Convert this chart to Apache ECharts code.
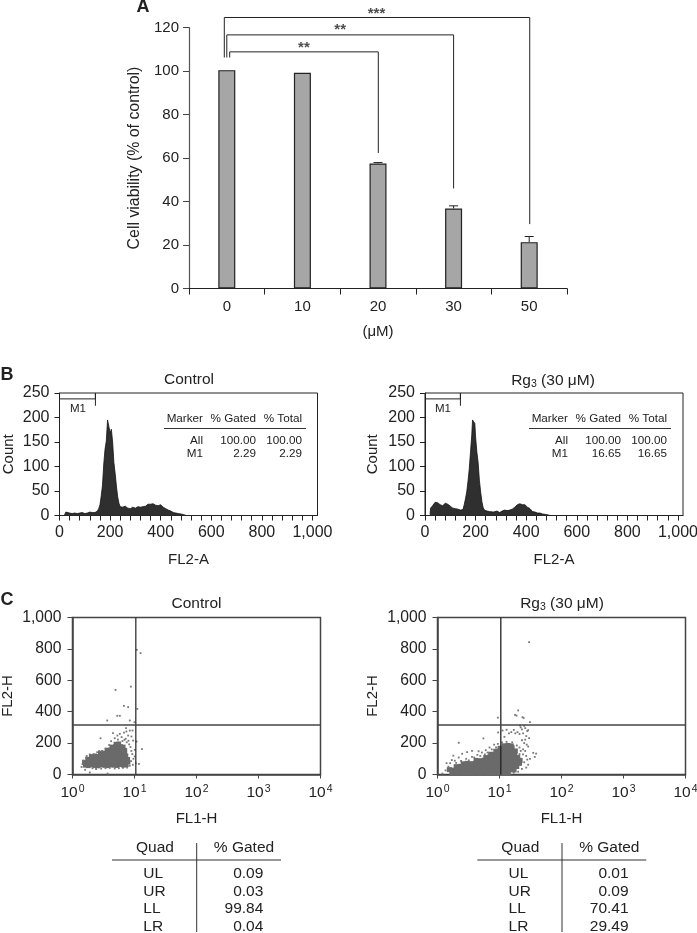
<!DOCTYPE html>
<html><head><meta charset="utf-8">
<style>html,body{margin:0;padding:0;background:#fff}#c{width:697px;height:933px}</style>
<script src="https://cdn.jsdelivr.net/npm/echarts@6/dist/echarts.min.js"></script>
</head><body><div id="c"></div>
<script>
// ---- Panel A
const doseCategories = ['0','10','20','30','50'];
const viability = [100.4, 99.2, 57.5, 36.8, 21.3];
const viabilityError = [0, 0, 0.4, 1.2, 2.6];
const bracket1 = [[0.538,106.2],[0.538,108.8],[2.504,108.8],[2.504,62.3]];
const bracket2 = [[0.5,106.2],[0.5,116.6],[3.5,116.6],[3.5,46]];
const bracket3 = [[0.467,106.2],[0.467,124.6],[4.507,124.6],[4.507,29.6]];
const starMarks = [[1.52,110.5,'**'],[2.0,118.8,'**'],[2.48,126.3,'***']];
// ---- Panel B
const histTicks = [0,40,80,120,160,200,240,280,320,360,400,440,480,520,560,600,640,680,720,760,800,840,880,920,960,1000];
const histLabels = [0,200,400,600,800,1000];
const countTicks = [0,50,100,150,200,250];
const histControl = [[20,1],[25,7],[30,5],[40,5],[50,4],[60,5],[70,4],[80,5],[90,6],[100,4],[110,5],[120,7],[125,5],[130,6],[140,6],[150,9],[155,14],[160,22],[165,40],[170,62],[175,105],[180,135],[185,152],[190,195],[195,182],[200,168],[205,176],[210,150],[215,108],[220,86],[225,60],[230,38],[235,25],[240,18],[245,21],[250,17],[260,19],[270,15],[280,14],[290,17],[300,15],[310,18],[320,17],[330,18],[340,19],[350,23],[355,25],[360,23],[370,24],[380,21],[390,20],[400,22],[410,17],[420,14],[430,11],[440,9],[450,6],[460,5],[470,4],[480,3],[490,2],[500,0]];
const histRg3 = [[20,2],[22,15],[30,20],[40,27],[45,29],[50,26],[55,27],[60,22],[70,20],[80,25],[90,23],[100,19],[110,15],[120,14],[130,13],[140,11],[150,12],[155,22],[160,34],[165,48],[170,70],[175,95],[180,130],[185,165],[188,195],[192,192],[197,188],[200,160],[205,130],[210,108],[215,72],[220,48],[225,28],[230,16],[235,11],[245,9],[255,8],[270,7],[285,9],[295,6],[305,9],[315,11],[325,10],[335,11],[345,13],[355,17],[365,22],[375,24],[380,28],[385,22],[395,22],[405,17],[415,14],[425,8],[435,7],[445,5],[455,5],[465,3],[480,2],[495,0]];
const gateControl = [[0,238],[142,238],[142,250],[142,224]];
const gateRg3 = [[0,238],[140,238],[140,250],[140,224]];
const tableBHead = ['Marker','% Gated','% Total'];
const tableBControl = [['All','100.00','100.00'],['M1','2.29','2.29']];
const tableBRg3 = [['All','100.00','100.00'],['M1','16.65','16.65']];
// ---- Panel C
const logTicks = [1,10,100,1000,10000];
const fl2Ticks = [0,200,400,600,800,1000];
const quadControlV = [[10.5,0],[10.5,1000]];
const quadControlH = [[1,316],[10000,316]];
const quadRg3V = [[10.5,0],[10.5,1000]];
const quadRg3H = [[1,316],[10000,316]];
const coreControl = [
[1.6,58],[1.8,55],[2.0,60],[2.3,56],[2.6,54],[2.9,60],[3.3,57],[3.7,55],[4.1,61],[4.6,58],[5.2,56],[5.9,62],[6.6,58],[7.4,61],
[1.55,78],[1.75,80],[2.0,76],[2.25,81],[2.5,77],[2.85,82],[3.2,78],[3.6,80],[4.05,76],[4.5,81],[5.1,78],[5.7,80],[6.4,77],[7.1,82],[7.9,78],
[1.75,98],[1.95,96],[2.2,100],[2.5,97],[2.8,101],[3.15,98],[3.55,96],[4.0,100],[4.45,97],[5.0,102],[5.6,98],[6.3,96],[7.0,101],[7.8,97],
[2.0,116],[2.3,119],[2.6,116],[2.95,120],[3.3,117],[3.7,120],[4.2,116],[4.7,121],[5.3,117],[5.9,120],[6.6,116],[7.3,120],
[2.8,136],[3.2,138],[3.6,135],[4.0,140],[4.5,137],[5.0,139],[5.6,136],[6.2,140],[7.0,137],
[3.6,156],[4.1,158],[4.6,155],[5.1,160],[5.7,157],[6.4,159],[7.0,155],
[4.3,176],[4.9,178],[5.4,175],[6.0,179],[6.6,176],
[5.0,194],[5.6,196]];
const sparseControl = [
[4.95,539],[8.75,560],[6.75,437],[7.9,429],[3.63,344],[5.27,374],[5.8,374],[8.4,344],[10,333],[11.1,418],[10.9,794],[12.5,773],[13.2,161],[11.8,68],[10.8,210],[2.83,231],[1.9,13],[3.67,6],[1.4,48],[1.5,90],[1.7,118],[1.6,30],[2.2,130],[2.5,142],[2.1,40],[3.0,150],[3.4,165],[1.45,66],[1.65,108],[1.9,128],[2.7,150],[2.4,35],[2.9,38],[3.4,40],[4.0,42],[4.8,38],[5.6,40],[6.5,42],[7.6,44],[8.4,56],
[4.5,263],[5.3,248],[5.8,259],[6.75,267],[7.4,274],[8.4,280],[9.3,280],[7.3,295],[4.8,231],[6.2,238],[7.9,248],[8.9,242],[9.5,216],[10.1,157],[10.1,115],[10.5,72],[4.2,212],[3.9,188],[5.4,222],[6.9,221],[7.5,205],[8.2,192],[8.6,175],[8.9,150],[9.2,130],[9.6,100],[8.8,85],[9.4,62],[7.2,228],[6.4,213],[8.0,215]];
const coreRg3 = [
[1.7,12],[1.95,9],[2.3,13],[2.65,10],[3.1,12],[3.6,9],[4.2,13],[4.9,10],[5.7,13],[6.6,9],[7.7,12],[8.9,10],[10.3,13],[12,10],[13.9,12],
[1.55,31],[1.8,28],[2.1,32],[2.45,29],[2.85,33],[3.3,28],[3.85,31],[4.5,29],[5.2,32],[6.05,28],[7,33],[8.2,29],[9.5,31],[11,28],[12.8,33],[14.9,30],[17.2,29],
[2.0,50],[2.35,52],[2.7,49],[3.15,53],[3.65,50],[4.25,48],[4.95,52],[5.75,49],[6.7,53],[7.8,50],[9.05,48],[10.5,52],[12.2,50],[14.2,53],[16.5,49],[19,51],
[2.6,68],[3.0,71],[3.5,69],[4.1,72],[4.75,68],[5.5,71],[6.4,69],[7.45,72],[8.65,68],[10,71],[11.7,69],[13.6,72],[15.8,68],[18.3,70],[21,71],
[4.2,90],[4.85,88],[5.65,91],[6.55,89],[7.6,92],[8.85,88],[10.3,91],[12,89],[13.9,92],[16.2,88],[18.8,91],[21.5,90],
[6.0,108],[6.9,111],[8.0,109],[9.3,112],[10.8,108],[12.6,111],[14.6,109],[17,112],[19.7,108],
[7.2,129],[8.35,127],[9.7,130],[11.3,128],[13.1,131],[15.2,127],[17.7,130],
[8.7,148],[10.1,150],[11.7,147],[13.6,151],[15.8,148],[18,150],
[10.2,167],[11.9,169],[13.8,166],[16,170],
[11.8,183],[13.7,185],[15.5,182]];
const sparseRg3 = [
[30,843],[20,408],[17.8,380],[18.8,375],[23.5,365],[24.5,360],[9.4,362],[31,333],[21.5,312],[25,310],[22,300],[26,295],[23,288],[29,282],[28,277],[17,284],[19.5,270],[24,262],[21,258],[18,262],[15.5,270],[14.2,262],[13,285],[11.2,280],[9.5,268],[12,240],[27,245],[30,232],[26,222],[23,218],[25,200],[27.5,190],[29,178],[35,138],[39,133],[37,112],[31,100],[27,118],[24,160],[26,150],[28,95],[25,78],[29,62],[27,44],[23,36],[20,18],[17,12],[5.5,230],[2.2,202],[4.6,148],[3.6,150],[3.0,142],[2.5,132],[1.8,120],[2.2,108],[1.6,72],[1.5,50],[1.35,26],[1.2,6],[1.9,88],[2.9,100],[3.6,112],[4.4,125],[5.2,140],[6,155],[6.9,172],[7.5,160],[8.2,190],[9.4,195],[11,205],[13,208],[16,205],[19,185],[21,172],[22,150],[24,128],[21,130],[1.4,72],[1.7,92],[2.4,86],[2.0,74],[3.2,90],[3.9,108],[4.9,118],[5.8,128],[6.4,140],[8.8,172]];
const tableCHead = ['Quad','% Gated'];
const tableCControl = [['UL','0.09'],['UR','0.03'],['LL','99.84'],['LR','0.04']];
const tableCRg3 = [['UL','0.01'],['UR','0.09'],['LL','70.41'],['LR','29.49']];

const FONT = '"Liberation Sans", Arial, sans-serif';
const INK = '#222';
const fmtThousand = v => v >= 1000 ? String(v).replace(/(\d)(\d{3})$/, '$1,$2') : String(v);

const grids = [
  {left:189, top:27.5, width:378, height:261},
  {left:59.5, top:393, width:258, height:122.5, show:true, borderColor:INK, borderWidth:1},
  {left:425, top:393, width:258, height:122.5, show:true, borderColor:INK, borderWidth:1},
  {left:72.5, top:617.5, width:248, height:157, show:true, borderColor:'#444', borderWidth:1.5},
  {left:437.5, top:617.5, width:248, height:157, show:true, borderColor:'#444', borderWidth:1.5}
].map(g=>Object.assign(g,{outerBoundsMode:'none',containLabel:false}));

function histX(i){return {gridIndex:i,type:'value',min:0,max:1020,
  name:'FL2-A',nameLocation:'middle',nameGap:37,nameTextStyle:{fontFamily:FONT,fontSize:15,color:INK},
  axisLine:{lineStyle:{color:INK}},splitLine:{show:false},
  axisTick:{show:true,length:5,customValues:histTicks,lineStyle:{color:INK}},
  axisLabel:{customValues:histLabels,formatter:fmtThousand,fontFamily:FONT,fontSize:16,color:INK,margin:9}};}
function histY(i,gap){return {gridIndex:i,type:'value',min:0,max:250,
  name:'Count',nameLocation:'middle',nameGap:gap,nameTextStyle:{fontFamily:FONT,fontSize:15,color:INK},
  axisLine:{show:true,lineStyle:{color:INK}},splitLine:{show:false},
  axisTick:{show:true,length:5,customValues:countTicks,lineStyle:{color:INK}},
  axisLabel:{customValues:countTicks,fontFamily:FONT,fontSize:16,color:INK,margin:10}};}
function dotX(i){return {gridIndex:i,type:'log',logBase:10,min:1,max:10000,
  name:'FL1-H',nameLocation:'middle',nameGap:37,nameTextStyle:{fontFamily:FONT,fontSize:15,color:INK},
  axisLine:{lineStyle:{color:'#444',width:1.5}},splitLine:{show:false},minorTick:{show:false},
  axisTick:{show:true,length:4,customValues:logTicks,lineStyle:{color:'#444'}},
  axisLabel:{customValues:logTicks,fontFamily:FONT,fontSize:15.5,color:INK,margin:9,
    formatter:v=>'{b|10}{s|'+Math.round(Math.log10(v))+'}',
    rich:{b:{fontFamily:FONT,fontSize:15.5,color:INK},s:{fontFamily:FONT,fontSize:10.5,color:INK,padding:[0,0,8,1]}}}};}
function dotY(i){return {gridIndex:i,type:'value',min:0,max:1000,
  name:'FL2-H',nameLocation:'middle',nameGap:57,nameTextStyle:{fontFamily:FONT,fontSize:15,color:INK},
  axisLine:{show:true,lineStyle:{color:'#444',width:1.5}},splitLine:{show:false},
  axisTick:{show:true,length:5,customValues:fl2Ticks,lineStyle:{color:'#444'}},
  axisLabel:{customValues:fl2Ticks,formatter:fmtThousand,fontFamily:FONT,fontSize:15.7,color:INK,margin:11}};}

const xAxes = [
  {gridIndex:0,type:'category',data:doseCategories,name:'(μM)',nameLocation:'middle',nameGap:36,
   nameTextStyle:{fontFamily:FONT,fontSize:15,color:INK},
   axisLine:{lineStyle:{color:INK,width:1}},axisTick:{show:true,alignWithLabel:false,length:6,lineStyle:{color:INK}},
   axisLabel:{fontFamily:FONT,fontSize:15,color:INK,margin:11}},
  {gridIndex:0,type:'value',min:0,max:5,show:false},
  histX(1),histX(2),dotX(3),dotX(4)
];
const yAxes = [
  {gridIndex:0,type:'value',min:0,max:120,interval:20,
   name:'Cell viability (% of control)',nameLocation:'middle',nameGap:42.5,nameTextStyle:{fontFamily:FONT,fontSize:15.9,color:INK},
   axisLine:{show:true,lineStyle:{color:'#555',width:1.2}},splitLine:{show:false},
   axisTick:{show:true,length:6,lineStyle:{color:'#444'}},
   axisLabel:{fontFamily:FONT,fontSize:15,color:INK,margin:10}},
  histY(1,43.5),histY(2,45),dotY(3),dotY(4)
];

const thin = (name,xi,yi,data,color,width)=>({name,type:'line',xAxisIndex:xi,yAxisIndex:yi,data,showSymbol:false,symbol:'none',
  clip:false,silent:true,animation:false,lineStyle:{color:color||INK,width:width||1}});
const dots = (name,xi,yi,data,size,color)=>({name,type:'scatter',xAxisIndex:xi,yAxisIndex:yi,data,symbol:'rect',symbolSize:size,
  silent:true,animation:false,itemStyle:{color,opacity:1}});
const hist = (name,xi,yi,data)=>({name,type:'line',xAxisIndex:xi,yAxisIndex:yi,data,showSymbol:false,symbol:'none',silent:true,animation:false,
  lineStyle:{color:'#141414',width:0.8},areaStyle:{color:'#2f2f2f',opacity:1}});

const series = [
  {name:'Cell viability',type:'bar',xAxisIndex:0,yAxisIndex:0,data:viability,barWidth:17,animation:false,silent:true,
   itemStyle:{color:'#a6a6a6',borderColor:'#222',borderWidth:1.2}},
  {name:'Error',type:'custom',xAxisIndex:0,yAxisIndex:0,animation:false,silent:true,
   data:viabilityError.map((e,i)=>[i,viability[i],viability[i]+e]),
   encode:{x:0,y:[1,2]},
   renderItem(params,api){
     const a=api.coord([api.value(0),api.value(1)]),b=api.coord([api.value(0),api.value(2)]);
     if(a[1]-b[1]<0.5) return {type:'group',children:[]};
     const st={stroke:'#222',lineWidth:1,fill:null};
     return {type:'group',children:[
       {type:'line',shape:{x1:a[0],y1:a[1],x2:b[0],y2:b[1]},style:st},
       {type:'line',shape:{x1:b[0]-4.5,y1:b[1],x2:b[0]+4.5,y2:b[1]},style:st}]};
   }},
  thin('Bracket 20',1,0,bracket1),thin('Bracket 30',1,0,bracket2),thin('Bracket 50',1,0,bracket3),
  {name:'Significance',type:'scatter',xAxisIndex:1,yAxisIndex:0,clip:false,symbolSize:0,animation:false,silent:true,
   data:starMarks.map(s=>({value:[s[0],s[1]],label:{formatter:s[2]}})),
   label:{show:true,position:'inside',fontFamily:FONT,fontWeight:'bold',fontSize:15,color:INK}},
  hist('Control hist',2,1,histControl),thin('M1 control',2,1,gateControl),
  hist('Rg3 hist',3,2,histRg3),thin('M1 Rg3',3,2,gateRg3),
  dots('Control core',4,3,coreControl,4.5,'#6a6a6a'),dots('Control sparse',4,3,sparseControl,1.8,'#777'),
  thin('Q v',4,3,quadControlV,'#333',1.3),thin('Q h',4,3,quadControlH,'#444',1.5),
  dots('Rg3 core',5,4,coreRg3,5,'#6a6a6a'),dots('Rg3 sparse',5,4,sparseRg3,1.8,'#777'),
  thin('Q v2',5,4,quadRg3V,'#222',1.3),thin('Q h2',5,4,quadRg3H,'#444',1.5)
];

// ---- text and rules that sit beside the plots
const T=(x,y,text,size,align,extra)=>({type:'text',silent:true,z:50,style:Object.assign({x,y,text,fill:INK,
  font:(size||15)+'px '+FONT,align:align||'center',verticalAlign:'middle'},extra||{})});
const L=(x1,y1,x2,y2,c,w)=>({type:'line',silent:true,z:50,shape:{x1,y1,x2,y2},style:{stroke:c||INK,lineWidth:w||1}});
const rg3Title=(x,y)=>T(x,y,'{a|Rg}{s|3}{a| (30 μM)}',15.5,'center',{rich:{
  a:{fontFamily:FONT,fontSize:15.5,fill:INK},s:{fontFamily:FONT,fontSize:10.5,fill:INK,padding:[7,0,0,0]}}});
const g=[
  T(143,7,'A',18,'center',{font:'bold 18px '+FONT}),
  T(7,375,'B',18,'center',{font:'bold 18px '+FONT}),
  T(7,600,'C',18,'center',{font:'bold 18px '+FONT}),
  T(189,380,'Control',15.5),rg3Title(553,381),
  T(196.5,604,'Control',15.5),rg3Title(562,604),
  T(78,409,'M1',11.5),T(443,409,'M1',11.5)
];
[[0,tableBControl],[365,tableBRg3]].forEach(([dx,rows])=>{
  const xs=[203+dx,256+dx,302+dx];
  tableBHead.forEach((h,i)=>g.push(T(xs[i],419,h,11.7,'right')));
  g.push(L(164+dx,428.5,306+dx,428.5,'#333',1));
  rows.forEach((r,j)=>r.forEach((t,i)=>g.push(T(xs[i],441+j*13,t,11.7,'right'))));
});
[[0,tableCControl],[365.3,tableCRg3]].forEach(([dx,rows])=>{
  g.push(T(155+dx,848,tableCHead[0],15.5),T(244+dx,848,tableCHead[1],15.5));
  g.push(L(112+dx,860,281+dx,860,'#333',1),L(196.7+dx,843,196.7+dx,932,'#333',1));
  rows.forEach((r,j)=>{const y=874+j*17.6;
    g.push(T(143.3+dx,y,r[0],15.5,'left'),T(263.3+dx,y,r[1],15.5,'right'));});
});

const chart=echarts.init(document.getElementById('c'),null,{renderer:'canvas'});
chart.setOption({animation:false,backgroundColor:'#fff',grid:grids,xAxis:xAxes,yAxis:yAxes,series,graphic:g});
</script></body></html>
